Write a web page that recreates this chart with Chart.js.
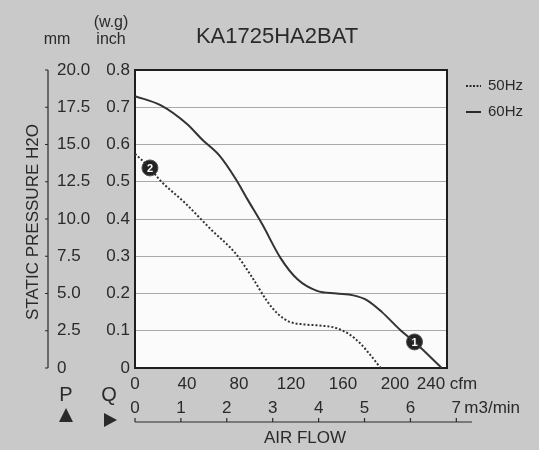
<!DOCTYPE html>
<html>
<head>
<meta charset="utf-8">
<script src="https://cdn.jsdelivr.net/npm/chart.js@4"></script>
<style>
  body { margin: 0; background: #c9c9c9; }
  #chart { display: block; }
</style>
</head>
<body>
<canvas id="chart" width="539" height="450"></canvas>
<script>
// 60Hz curve (cfm, inch H2O)
const flow60 = [0, 20, 40, 52, 65, 77, 87, 98, 112, 125, 140, 155, 168, 178, 190, 204, 215, 236];
const press60 = [0.73, 0.705, 0.655, 0.612, 0.57, 0.51, 0.45, 0.385, 0.295, 0.238, 0.207, 0.200, 0.195, 0.183, 0.15, 0.102, 0.07, 0];

// 50Hz curve
const flow50 = [0, 11.5, 19, 38.5, 59, 77, 90, 101.5, 110, 119, 130, 142, 155, 165, 173, 181, 189];
const press50 = [0.575, 0.537, 0.505, 0.443, 0.37, 0.309, 0.244, 0.18, 0.145, 0.124, 0.117, 0.114, 0.107, 0.09, 0.067, 0.035, 0];

// numbered operating points
const markerFlow = [215, 11.5];
const markerPress = [0.07, 0.537];
const markerLabels = ['1', '2'];

const cfmTicks = [0, 40, 80, 120, 160, 200, 240];
const m3Ticks = [0, 1, 2, 3, 4, 5, 6, 7];
const CFM_PER_M3 = 35.31;

const ink = '#2a2a2a';
const font = 'Arial, "Liberation Sans", sans-serif';

const toPoints = (xs, ys) => xs.map((x, i) => ({ x: x, y: ys[i] }));

const extras = {
    id: 'extras',
    beforeDraw(chart) {
        const { ctx, chartArea: a } = chart;
        ctx.save();
        ctx.fillStyle = '#fbfbfb';
        ctx.fillRect(a.left, a.top, a.right - a.left, a.bottom - a.top);
        ctx.restore();
    },
    beforeDatasetsDraw(chart) {
        const { ctx, chartArea: a } = chart;
        ctx.save();
        ctx.strokeStyle = '#1e1e1e';
        ctx.lineWidth = 2;
        ctx.strokeRect(a.left, a.top, a.right - a.left, a.bottom - a.top);
        ctx.restore();
    },
    afterDraw(chart) {
        const { ctx, chartArea: a, scales } = chart;
        const x = scales.x, y = scales.y;
        ctx.save();
        ctx.fillStyle = ink;
        ctx.strokeStyle = ink;
        ctx.textBaseline = 'middle';

        // numbers inside the markers
        const meta = chart.getDatasetMeta(2);
        ctx.font = 'bold 11px ' + font;
        ctx.textAlign = 'center';
        ctx.fillStyle = '#fff';
        meta.data.forEach((pt, i) => ctx.fillText(markerLabels[i], pt.x, pt.y + 1));
        ctx.fillStyle = ink;

        // title
        ctx.font = '22px ' + font;
        ctx.fillText('KA1725HA2BAT', 277, 37);

        // units
        ctx.font = '16px ' + font;
        ctx.fillText('mm', 57, 40);
        ctx.fillText('(w.g)', 111, 23);
        ctx.fillText('inch', 111, 40);

        // mm ruler line
        ctx.lineWidth = 1.2;
        ctx.beginPath();
        ctx.moveTo(48, y.getPixelForValue(0.8));
        ctx.lineTo(48, y.getPixelForValue(0));
        for (let v = 0; v <= 0.8001; v += 0.1) {
            const py = y.getPixelForValue(v);
            ctx.moveTo(45, py);
            ctx.lineTo(48, py);
        }
        ctx.stroke();

        // y title
        ctx.save();
        ctx.translate(33, 222);
        ctx.rotate(-Math.PI / 2);
        ctx.font = '17px ' + font;
        ctx.fillText('STATIC PRESSURE H2O', 0, 0);
        ctx.restore();

        // m3/min axis
        const axisY = 422;
        ctx.beginPath();
        ctx.moveTo(a.left, axisY);
        ctx.lineTo(472, axisY);
        m3Ticks.forEach(m => {
            const px = x.getPixelForValue(m * CFM_PER_M3);
            ctx.moveTo(px, axisY);
            ctx.lineTo(px, axisY - 4);
        });
        ctx.stroke();
        ctx.font = '17px ' + font;
        m3Ticks.forEach(m => {
            const px = x.getPixelForValue(m * CFM_PER_M3);
            ctx.textAlign = 'center';
            ctx.fillText(String(m), px, 408);
            if (m === m3Ticks[m3Ticks.length - 1]) {
                ctx.textAlign = 'left';
                ctx.fillText('m3/min', px + 8, 408);
            }
        });

        // P / Q
        ctx.textAlign = 'center';
        ctx.font = '20px ' + font;
        ctx.fillText('P', 66, 395);
        ctx.fillText('Q', 109, 395);
        ctx.beginPath();
        ctx.moveTo(66, 408); ctx.lineTo(73, 422); ctx.lineTo(59, 422); ctx.closePath();
        ctx.fill();
        ctx.beginPath();
        ctx.moveTo(104, 413); ctx.lineTo(117, 420); ctx.lineTo(104, 427); ctx.closePath();
        ctx.fill();

        // x title
        ctx.font = '17px ' + font;
        ctx.fillText('AIR FLOW', 305, 438);

        // legend
        ctx.textAlign = 'left';
        ctx.font = '15px ' + font;
        ctx.lineWidth = 2;
        ctx.setLineDash([2, 1.5]);
        ctx.beginPath();
        ctx.moveTo(466, 86); ctx.lineTo(481, 86);
        ctx.stroke();
        ctx.setLineDash([]);
        ctx.beginPath();
        ctx.moveTo(466, 112); ctx.lineTo(481, 112);
        ctx.stroke();
        ctx.fillText('50Hz', 488, 86);
        ctx.fillText('60Hz', 488, 112);
        ctx.restore();
    }
};

const fmt = v => v === 0 ? '0' : v.toFixed(1);

new Chart(document.getElementById('chart'), {
    type: 'line',
    data: {
        datasets: [{
            label: '50Hz',
            data: toPoints(flow50, press50),
            borderColor: '#333',
            borderWidth: 2,
            borderDash: [2, 2],
            pointRadius: 0,
            cubicInterpolationMode: 'monotone'
        }, {
            label: '60Hz',
            data: toPoints(flow60, press60),
            borderColor: '#333',
            borderWidth: 2,
            pointRadius: 0,
            cubicInterpolationMode: 'monotone'
        }, {
            label: 'points',
            data: toPoints(markerFlow, markerPress),
            showLine: false,
            pointRadius: 8,
            pointBackgroundColor: '#222',
            pointBorderColor: '#555',
            pointBorderWidth: 1
        }]
    },
    options: {
        responsive: false,
        animation: false,
        layout: { padding: { left: 57, right: 92, top: 70, bottom: 0 } },
        plugins: {
            legend: { display: false },
            tooltip: { enabled: false }
        },
        scales: {
            x: {
                type: 'linear',
                min: 0,
                max: 240,
                afterFit: s => { s.height = 82; },
                afterBuildTicks: s => { s.ticks = cfmTicks.map(v => ({ value: v })); },
                grid: { display: false, drawTicks: false },
                border: { display: false },
                ticks: {
                    color: ink,
                    font: { family: font, size: 17 },
                    padding: 6,
                    maxRotation: 0,
                    autoSkip: false,
                    callback: v => v === 240 ? '240 cfm' : String(v)
                }
            },
            y: {
                min: 0,
                max: 0.8,
                weight: 0,
                afterFit: s => { s.width = 40; },
                grid: { color: '#a9a9a9', lineWidth: 1, drawTicks: false },
                border: { display: false },
                ticks: {
                    stepSize: 0.1,
                    color: ink,
                    font: { family: font, size: 17 },
                    padding: 5,
                    callback: fmt
                }
            },
            y2: {
                position: 'left',
                min: 0,
                max: 20,
                weight: 1,
                afterFit: s => { s.width = 38; },
                grid: { display: false, drawTicks: false },
                border: { display: false },
                ticks: {
                    stepSize: 2.5,
                    color: ink,
                    font: { family: font, size: 17 },
                    crossAlign: 'far',
                    padding: 0,
                    callback: fmt
                }
            }
        }
    },
    plugins: [extras]
});
</script>
</body>
</html>
